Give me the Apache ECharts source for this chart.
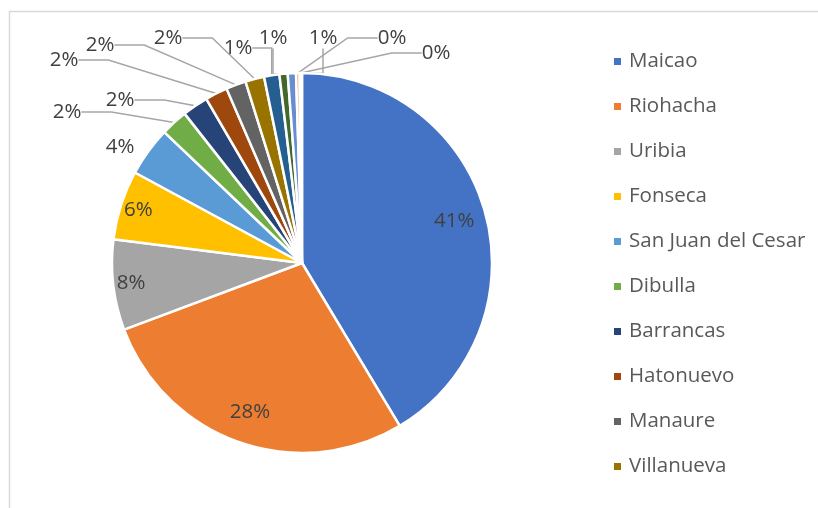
<!DOCTYPE html>
<html><head><meta charset="utf-8">
<script src="https://cdn.jsdelivr.net/npm/echarts@6/dist/echarts.min.js"></script>
<style>html,body{margin:0;padding:0;background:#fff}#c{width:818px;height:508px}</style>
</head><body><div id="c"></div>
<script>
const names = ['Maicao','Riohacha','Uribia','Fonseca','San Juan del Cesar','Dibulla','Barrancas','Hatonuevo','Manaure','Villanueva','Albania','Distracción','El Molino','Urumita','La Jagua del Pilar'];
const values = [41.4, 27.9, 7.7, 5.9, 4.2, 2.3, 2.2, 1.9, 1.7, 1.6, 1.3, 0.7, 0.7, 0.3, 0.2];
const colors = ['#4472C4','#ED7D31','#A5A5A5','#FFC000','#5B9BD5','#70AD47','#264478','#9E480E','#636363','#997300','#255E91','#43682B','#698ED0','#F1975A','#B7B7B7'];
const legendNames = names.slice(0, 10);

// label anchor positions for the outside (leader-line) labels, by data index
const labelPos = {4:[120,147],5:[67,112],6:[120,100],7:[64,60],8:[100,45],9:[168,38],10:[238,48],11:[273,38],12:[323,38],13:[392,38],14:[436,53]};

const FONT = 'Open Sans';
const FS = 20.5;
const total = values.reduce((a,b)=>a+b,0);
const pctFmt = p => Math.round(p.value / total * 100) + '%';
const center = [302, 263];
const R = 190;

function mk(showIdx, extra){
  return names.map((n,i)=>{
    const o = {name:n, value:values[i]};
    o.label = {show: showIdx.includes(i)};
    if (extra) Object.assign(o, extra(i));
    return o;
  });
}

const chart = echarts.init(document.getElementById('c'));
const base = {type:'pie', center:center, startAngle:90, clockwise:true, animation:false};
const lbl = {color:'#404040', fontSize:FS, fontFamily:FONT, formatter:pctFmt};
chart.setOption({
  color: colors,
  graphic:[{type:'rect', shape:{x:9.5,y:11.5,width:900,height:600}, style:{fill:'none', stroke:'#D9D9D9', lineWidth:1.5}, silent:true, z:-10}],
  legend:{
    data: legendNames, orient:'vertical', left:607, top:46,
    itemWidth:9, itemHeight:9, itemGap:24, icon:'rect',
    textStyle:{color:'#595959', fontSize:FS, fontFamily:FONT, lineHeight:20, padding:[0,0,0,2]}
  },
  series:[
    Object.assign({}, base, {
      radius:[0,R],
      itemStyle:{borderColor:'#fff', borderWidth:2.5},
      label: Object.assign({position:'outside'}, lbl),
      labelLine:{show:true, length:12, length2:30, lineStyle:{color:'#A6A6A6', width:1.5}},
      data: mk([4,5,6,7,8,9,10,11,12,13,14], i => i===4 ? {labelLine:{show:false}} : {}),
      labelLayout: p => {
        const pos = labelPos[p.dataIndex];
        if (!pos) return {};
        return {x:pos[0], y:pos[1], align:'center', verticalAlign:'middle'};
      }
    }),
    Object.assign({}, base, {
      radius:[120,R], silent:true, legendHoverLink:false,
      itemStyle:{color:'rgba(0,0,0,0)'},
      label: Object.assign({position:'inside'}, lbl),
      labelLine:{show:false},
      data: mk([0,1])
    }),
    Object.assign({}, base, {
      radius:[148,R], silent:true, legendHoverLink:false,
      itemStyle:{color:'rgba(0,0,0,0)'},
      label: Object.assign({position:'inside'}, lbl),
      labelLine:{show:false},
      data: mk([2,3])
    })
  ]
});
</script></body></html>
